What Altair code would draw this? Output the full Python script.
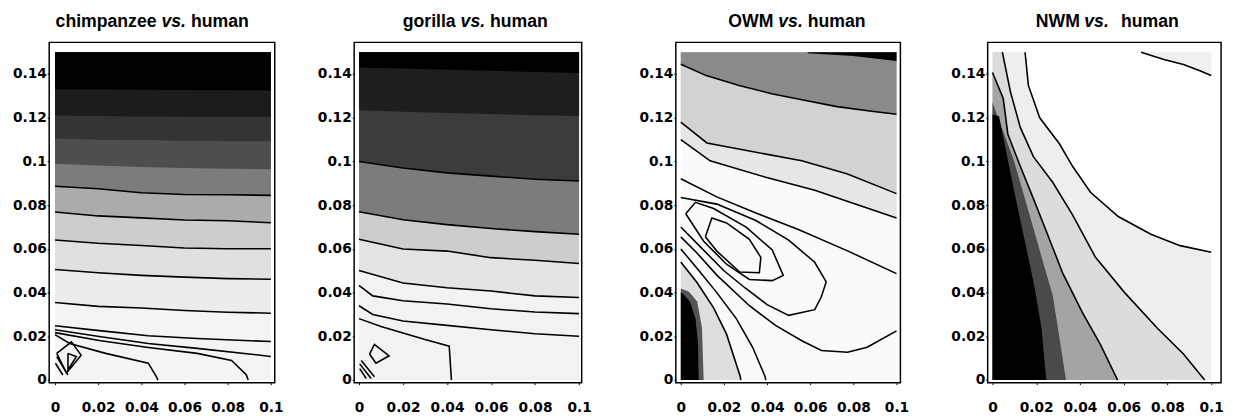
import altair as alt
import pandas as pd

TOP = 0.15
LEFT = 0.0
TICKS_X = [0, 0.02, 0.04, 0.06, 0.08, 0.1]
TICKS_Y = [0, 0.02, 0.04, 0.06, 0.08, 0.1, 0.12, 0.14]

# ---------------- panel 1 : chimpanzee vs. human ----------------
P1_X = [0, 0.02, 0.04, 0.06, 0.08, 0.1]
P1_BASE = [0, 0, 0, 0, 0, 0]
P1_E = [0.0355, 0.0337, 0.0330, 0.0318, 0.0310, 0.0306]
P1_D = [0.0506, 0.0491, 0.0479, 0.0471, 0.0464, 0.0461]
P1_C = [0.0641, 0.0626, 0.0616, 0.0604, 0.0601, 0.0601]
P1_B = [0.0769, 0.0751, 0.0742, 0.0732, 0.0729, 0.0720]
P1_A = [0.0887, 0.0875, 0.0857, 0.0849, 0.0848, 0.0845]
P1_S5 = [0.0990, 0.0982, 0.0975, 0.0970, 0.0967, 0.0965]
P1_S6 = [0.1105, 0.1100, 0.1098, 0.1095, 0.1093, 0.1092]
P1_S7 = [0.1210, 0.1208, 0.1206, 0.1205, 0.1204, 0.1203]
P1_S8 = [0.1330, 0.1330, 0.1328, 0.1327, 0.1326, 0.1325]
P1_F1_X = [0, 0.0205, 0.0432, 0.0659, 0.1]
P1_F1_Y = [0.0248, 0.0226, 0.0203, 0.0190, 0.0176]
P1_F2_Y = [0.0230, 0.0199, 0.0167, 0.0145, 0.0108]
P1_F3_X = [0, 0.0205, 0.0432, 0.0659, 0.0818, 0.0886, 0.0895]
P1_F3_Y = [0.0217, 0.0181, 0.0149, 0.0122, 0.0090, 0.0024, 0.0]
P1_F4_X = [0, 0.0068, 0.0235, 0.0432, 0.0468, 0.0477]
P1_F4_Y = [0.0208, 0.0167, 0.0122, 0.0077, 0.0018, 0.0]
P1_K1_X = [0.0008, 0.0076, 0.0121, 0.0053, 0.0008]
P1_K1_Y = [0.0122, 0.0175, 0.0114, 0.0032, 0.0122]
P1_K2_X = [0.0060, 0.0099, 0.0060, 0.0060]
P1_K2_Y = [0.0122, 0.0107, 0.0047, 0.0122]
P1_K3_X = [0.0008, 0.0060]
P1_K3_Y = [0.0107, 0.0024]
P1_K4_X = [0.0002, 0.0036]
P1_K4_Y = [0.0077, 0.0023]

# ---------------- panel 2 : gorilla vs. human ----------------
P2_X = [0, 0.02, 0.04, 0.06, 0.08, 0.1]
P2_BASE = [0, 0, 0, 0, 0, 0]
P2_T6 = [0.0501, 0.0444, 0.0422, 0.0407, 0.0385, 0.0378]
P2_T5 = [0.0644, 0.0600, 0.0590, 0.0560, 0.0548, 0.0533]
P2_T4 = [0.0770, 0.0733, 0.0711, 0.0693, 0.0679, 0.0667]
P2_T3 = [0.1000, 0.0970, 0.0948, 0.0933, 0.0919, 0.0911]
P2_T2 = [0.1235, 0.1228, 0.1222, 0.1217, 0.1212, 0.1208]
P2_T1 = [0.1430, 0.1425, 0.1420, 0.1415, 0.1410, 0.1405]
P2_G1_X = [0, 0.00625, 0.02, 0.04, 0.06, 0.08, 0.1]
P2_G1_Y = [0.0433, 0.0385, 0.0363, 0.0348, 0.0326, 0.0311, 0.0304]
P2_G2_Y = [0.0340, 0.0300, 0.0270, 0.0250, 0.0230, 0.0212, 0.0200]
P2_G3_X = [0, 0.01, 0.02, 0.03, 0.041, 0.042]
P2_G3_Y = [0.0281, 0.0245, 0.0215, 0.0185, 0.0155, 0.0]
P2_K1_X = [0.0048, 0.0070, 0.0137, 0.0077, 0.0048]
P2_K1_Y = [0.0119, 0.0163, 0.0111, 0.0077, 0.0119]
P2_K2_X = [0.0003, 0.0055]
P2_K2_Y = [0.0074, 0.0007]
P2_K3_X = [0.0010, 0.0070]
P2_K3_Y = [0.0089, 0.0015]
P2_K4_X = [0.0003, 0.0033]
P2_K4_Y = [0.0052, 0.0007]

# ---------------- panel 3 : OWM vs. human ----------------
P3_BASE_X = [0, 0.1]
P3_BASE_Y = [0, 0]
P3_LB_X = [0, 0.0136, 0.0394, 0.0621, 0.1]
P3_LB_Y = [0.110, 0.1003, 0.0928, 0.0868, 0.0741]
P3_LA_X = [0, 0.0121, 0.0318, 0.0561, 0.0773, 0.1]
P3_LA_Y = [0.118, 0.1085, 0.1048, 0.1003, 0.0943, 0.0853]
P3_C0_X = [0, 0.0118, 0.027, 0.0421, 0.0573, 0.0724, 0.0876, 0.1]
P3_C0_Y = [0.1445, 0.1393, 0.1348, 0.1310, 0.1280, 0.1251, 0.1231, 0.1216]
P3_BK_X = [0.0588, 0.080, 0.1]
P3_BK_Y = [0.1495, 0.1483, 0.1460]
P3_LC_X = [0, 0.0167, 0.0348, 0.0545, 0.0773, 0.1]
P3_LC_Y = [0.0921, 0.0838, 0.0764, 0.0689, 0.0591, 0.0487]
P3_OUT_X = [0, 0.0167, 0.0348, 0.050, 0.062, 0.0674, 0.0652, 0.0621, 0.050, 0.040, 0.030, 0.020, 0.010, 0]
P3_OUT_Y = [0.0835, 0.0805, 0.0730, 0.0640, 0.0540, 0.0449, 0.0382, 0.0322, 0.0296, 0.0345, 0.0420, 0.0500, 0.0600, 0.0700]
P3_MID_X = [0.0023, 0.0068, 0.0152, 0.0303, 0.0424, 0.0475, 0.0424, 0.0318, 0.0212, 0.0106, 0.0023]
P3_MID_Y = [0.0761, 0.0813, 0.0785, 0.0700, 0.0595, 0.0479, 0.0455, 0.0460, 0.0530, 0.0635, 0.0761]
P3_IN_X = [0.0114, 0.0144, 0.0212, 0.0318, 0.0371, 0.0364, 0.0273, 0.0167, 0.0114]
P3_IN_Y = [0.0656, 0.0741, 0.0719, 0.0644, 0.0561, 0.0491, 0.0494, 0.0590, 0.0656]
P3_BIG_X = [0, 0.0076, 0.0167, 0.0318, 0.0439, 0.0561, 0.0652, 0.0773, 0.0864, 0.1]
P3_BIG_Y = [0.0655, 0.0580, 0.0480, 0.0340, 0.0250, 0.0180, 0.0135, 0.0127, 0.0150, 0.0225]
P3_DA_X = [0, 0.0076, 0.0167, 0.0258, 0.0333, 0.0391, 0.0394]
P3_DA_Y = [0.0600, 0.0510, 0.0400, 0.0280, 0.0150, 0.0015, 0.0]
P3_DB_X = [0, 0.0076, 0.0152, 0.0212, 0.0276, 0.0278]
P3_DB_Y = [0.0540, 0.0445, 0.0330, 0.0210, 0.0015, 0.0]
# left strip, read as x at each y
P3_HL_Y = [0, 0.0210, 0.0330, 0.0445, 0.0540]
P3_HL_X = [0.0278, 0.0212, 0.0152, 0.0076, 0]
P3_HD_Y = [0, 0.0240, 0.0359, 0.0404, 0.0419]
P3_HD_X = [0.0106, 0.0098, 0.0076, 0.0038, 0]
P3_HK_Y = [0, 0.0165, 0.0284, 0.0359, 0.0397, 0.0400]
P3_HK_X = [0.0083, 0.0080, 0.0068, 0.0042, 0.0008, 0]

# ---------------- panel 4 : NWM vs. human ----------------
P4_L1_Y = [0, 0.0163, 0.0311, 0.0489, 0.0681, 0.0830, 0.0978, 0.1126, 0.1289, 0.1407]
P4_L1_X = [0.0572, 0.0493, 0.0410, 0.0321, 0.0246, 0.0187, 0.0127, 0.0070, 0.0049, 0]
P4_L2_Y = [0, 0.0119, 0.0237, 0.0400, 0.0563, 0.0756, 0.0904, 0.1022, 0.1156, 0.1319, 0.15]
P4_L2_X = [0.0970, 0.0873, 0.0754, 0.0604, 0.0470, 0.0366, 0.0276, 0.0187, 0.0127, 0.0082, 0.0045]
P4_L3_Y = [0.0585, 0.0615, 0.0667, 0.0748, 0.0859, 0.0978, 0.1081, 0.1200, 0.1348, 0.15]
P4_L3_X = [0.1, 0.0858, 0.0724, 0.0575, 0.0448, 0.0366, 0.0306, 0.0216, 0.0164, 0.0149]
P4_R3_Y = [0, 0.0585, 0.0615, 0.0667, 0.0748, 0.0859, 0.0978, 0.1081, 0.1200, 0.1348, 0.15]
P4_R3_X = [0.1, 0.1, 0.0858, 0.0724, 0.0575, 0.0448, 0.0366, 0.0306, 0.0216, 0.0164, 0.0149]
P4_L4_X = [0.0679, 0.0784, 0.0873, 0.0948, 0.1]
P4_L4_Y = [0.15, 0.1467, 0.1444, 0.1415, 0.1393]
P4_DK_Y = [0, 0.0385, 0.0593, 0.0800, 0.1007, 0.1270]
P4_DK_X = [0.0336, 0.0276, 0.0216, 0.0157, 0.0097, 0]
P4_BK_Y = [0, 0.0237, 0.0415, 0.0593, 0.0770, 0.0948, 0.1096, 0.1207, 0.1215]
P4_BK_X = [0.0246, 0.0224, 0.0194, 0.0157, 0.0119, 0.0082, 0.0052, 0.0030, 0]

TITLES = [
    ("chimpanzee", "vs.", "human"),
    ("gorilla", "vs.", "human"),
    ("OWM", "vs.", "human"),
    ("NWM", "vs.", "human"),
]

# ---------------- styles ----------------
H = 347
YDOM = [-0.0012, 0.1545]
PANELS = [
    dict(xdom=[-0.0027, 0.1018], w=230, ext=41, vs=127, gl=17.5, gr=17.5),
    dict(xdom=[-0.0022, 0.1012], w=232, ext=60, vs=121, gl=17.5, gr=17.5),
    dict(xdom=[-0.0023, 0.1018], w=229, ext=74, vs=117, gl=17.5, gr=17.5),
    dict(xdom=[-0.0022, 0.1045], w=238, ext=68, vs=111, gl=17, gr=25),
]
LABEL = dict(labelFont="DejaVu Sans", labelFontSize=14, labelFontWeight="bold",
             labelColor="black", tickSize=2, tickColor="black", domain=False, grid=False)

P1_VB = [(P1_X, P1_BASE, "#f4f4f4"), (P1_X, P1_E, "#ececec"), (P1_X, P1_D, "#e0e0e0"),
         (P1_X, P1_C, "#cdcdcd"), (P1_X, P1_B, "#ababab"), (P1_X, P1_A, "#7c7c7c"),
         (P1_X, P1_S5, "#4e4e4e"), (P1_X, P1_S6, "#343434"), (P1_X, P1_S7, "#1c1c1c"),
         (P1_X, P1_S8, "#000000")]
P1_LN = [(P1_X, P1_A), (P1_X, P1_B), (P1_X, P1_C), (P1_X, P1_D), (P1_X, P1_E),
         (P1_F1_X, P1_F1_Y), (P1_F1_X, P1_F2_Y), (P1_F3_X, P1_F3_Y), (P1_F4_X, P1_F4_Y),
         (P1_K1_X, P1_K1_Y), (P1_K2_X, P1_K2_Y), (P1_K3_X, P1_K3_Y), (P1_K4_X, P1_K4_Y)]

P2_VB = [(P2_X, P2_BASE, "#f2f2f2"), (P2_X, P2_T6, "#e4e4e4"), (P2_X, P2_T5, "#cdcdcd"),
         (P2_X, P2_T4, "#7c7c7c"), (P2_X, P2_T3, "#3c3c3c"), (P2_X, P2_T2, "#1e1e1e"),
         (P2_X, P2_T1, "#000000")]
P2_LN = [(P2_X, P2_T3), (P2_X, P2_T4), (P2_X, P2_T5), (P2_X, P2_T6),
         (P2_G1_X, P2_G1_Y), (P2_G1_X, P2_G2_Y), (P2_G3_X, P2_G3_Y),
         (P2_K1_X, P2_K1_Y), (P2_K2_X, P2_K2_Y), (P2_K3_X, P2_K3_Y), (P2_K4_X, P2_K4_Y)]

P3_VB = [(P3_BASE_X, P3_BASE_Y, "#fafafa"), (P3_LB_X, P3_LB_Y, "#e6e6e6"),
         (P3_LA_X, P3_LA_Y, "#d2d2d2"), (P3_C0_X, P3_C0_Y, "#8a8a8a"),
         (P3_BK_X, P3_BK_Y, "#000000")]
P3_HB = [(P3_HL_Y, P3_HL_X, "#dedede"), (P3_HD_Y, P3_HD_X, "#555555"),
         (P3_HK_Y, P3_HK_X, "#000000")]
P3_LN = [(P3_C0_X, P3_C0_Y), (P3_LA_X, P3_LA_Y), (P3_LB_X, P3_LB_Y), (P3_LC_X, P3_LC_Y),
         (P3_OUT_X, P3_OUT_Y), (P3_MID_X, P3_MID_Y), (P3_IN_X, P3_IN_Y),
         (P3_BIG_X, P3_BIG_Y), (P3_DA_X, P3_DA_Y), (P3_DB_X, P3_DB_Y)]

P4_VB = [(P4_L4_X, P4_L4_Y, "#f0f0f0")]
P4_HB = [(P4_R3_Y, P4_R3_X, "#eeeeee"), (P4_L2_Y, P4_L2_X, "#dcdcdc"),
         (P4_L1_Y, P4_L1_X, "#a4a4a4"), (P4_DK_Y, P4_DK_X, "#4a4a4a"),
         (P4_BK_Y, P4_BK_X, "#000000")]
P4_LN = [(P4_L1_X, P4_L1_Y), (P4_L2_X, P4_L2_Y), (P4_L3_X, P4_L3_Y), (P4_L4_X, P4_L4_Y)]

ALL = [(P1_VB, [], P1_LN), (P2_VB, [], P2_LN), (P3_VB, P3_HB, P3_LN), (P4_VB, P4_HB, P4_LN)]


def make_panel(k):
    cfg = PANELS[k]
    vbands, hbands, lines = ALL[k]
    X = alt.X("x:Q", scale=alt.Scale(domain=cfg["xdom"], nice=False, zero=False),
              axis=alt.Axis(values=TICKS_X, format="~g", title=None, labelPadding=16, **LABEL))
    Y = alt.Y("y:Q", scale=alt.Scale(domain=YDOM, nice=False, zero=False),
              axis=alt.Axis(values=TICKS_Y, format="~g", title=None, labelPadding=1,
                            minExtent=cfg["ext"], **LABEL))
    layers = []
    for xs, ys, col in vbands:
        df = pd.DataFrame({"x": xs, "y": ys, "top": [TOP] * len(xs)})
        layers.append(alt.Chart(df).mark_area(color=col, opacity=1, clip=True)
                      .encode(x=X, y=Y, y2="top:Q"))
    for ys, xs, col in hbands:
        df = pd.DataFrame({"x": xs, "y": ys, "left": [LEFT] * len(xs)})
        layers.append(alt.Chart(df).mark_area(color=col, opacity=1, orient="horizontal", clip=True)
                      .encode(y=Y, x=X, x2="left:Q"))
    rows = []
    for j, (xs, ys) in enumerate(lines):
        for i, (a, b) in enumerate(zip(xs, ys)):
            rows.append({"x": a, "y": b, "id": j, "i": i})
    layers.append(alt.Chart(pd.DataFrame(rows)).mark_line(color="black", strokeWidth=1.6, clip=True)
                  .encode(x=X, y=Y, detail="id:N", order="i:Q"))
    t1, t2, t3 = TITLES[k]
    base = dict(font="Liberation Sans", fontSize=18, fontWeight="bold", color="black",
                baseline="alphabetic")
    tdf = pd.DataFrame({"a": [t1], "b": [t2], "c": [t3]})
    layers.append(alt.Chart(tdf).mark_text(align="right", **base)
                  .encode(text="a:N", x=alt.value(cfg["vs"] - cfg["gl"]), y=alt.value(-16)))
    layers.append(alt.Chart(tdf).mark_text(align="center", fontStyle="italic", **base)
                  .encode(text="b:N", x=alt.value(cfg["vs"]), y=alt.value(-16)))
    layers.append(alt.Chart(tdf).mark_text(align="left", **base)
                  .encode(text="c:N", x=alt.value(cfg["vs"] + cfg["gr"]), y=alt.value(-16)))
    return alt.layer(*layers).properties(width=cfg["w"], height=H)


chart = alt.hconcat(*[make_panel(k) for k in range(4)], spacing=10).properties(
    padding={"left": 0, "top": 0, "right": 0, "bottom": 0}, background="white"
).configure_view(stroke="black", strokeWidth=1.5, fill="white").configure_axis(**LABEL)

chart.save("out.html", embed_options={"renderer": "svg", "actions": False})
